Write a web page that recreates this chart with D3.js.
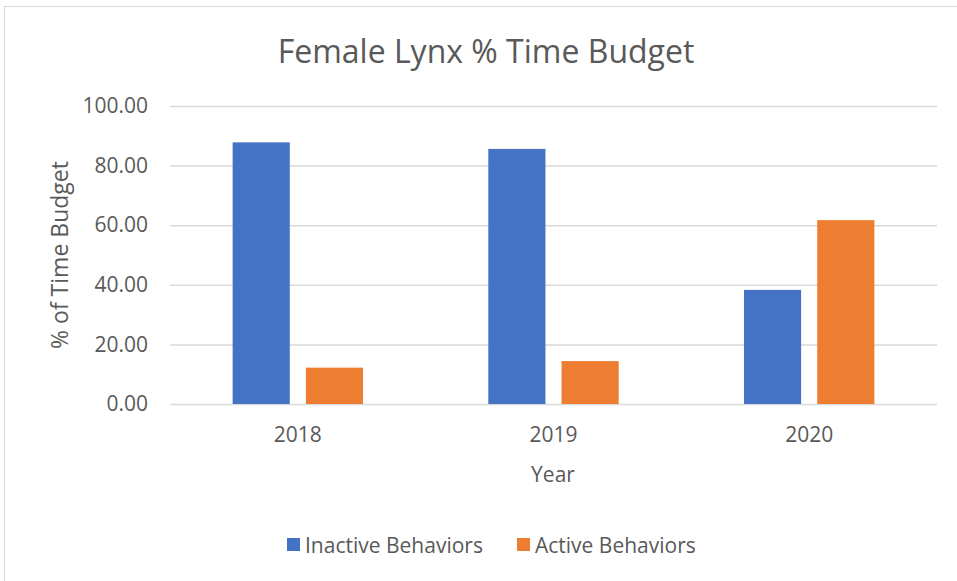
<!DOCTYPE html>
<html><head><meta charset="utf-8">
<script src="https://cdn.jsdelivr.net/npm/d3@7"></script>
<style>body{margin:0;background:#fff}svg{display:block}text{font-family:"Open Sans",sans-serif;fill:#595959}</style>
</head><body>
<script>
const years = ["2018","2019","2020"];
const seriesNames = ["Inactive Behaviors","Active Behaviors"];
const inactive = [87.8, 85.6, 38.3];
const active = [12.2, 14.4, 61.7];
const yTicks = [0,20,40,60,80,100];
const colors = ["#4472C4","#ED7D31"];

const W=957,H=581;
const svg=d3.select("body").append("svg").attr("width",W).attr("height",H);
svg.append("rect").attr("x",4.5).attr("y",6.5).attr("width",W+10).attr("height",H+10)
  .attr("fill","#fff").attr("stroke","#d9d9d9");

const m={l:170,r:937,t:106,b:404};
const y=d3.scaleLinear().domain([0,100]).range([m.b,m.t]);
const x0=d3.scaleBand().domain(years).range([m.l,m.r]).paddingInner(0.49).paddingOuter(0.245);
const x1=d3.scaleBand().domain(seriesNames).range([0,x0.bandwidth()]).paddingInner(0.22);

const yAxis=d3.axisLeft(y).tickValues(yTicks).tickFormat(d3.format(".2f")).tickSize(-(m.r-m.l)).tickPadding(22);
const ga=svg.append("g").attr("transform",`translate(${m.l},0)`).call(yAxis);
ga.select(".domain").remove();
ga.selectAll("line").attr("stroke","#d9d9d9").attr("stroke-width",1.5);
ga.selectAll("text").attr("font-size",21).style("fill","#595959").attr("font-family","Open Sans");

const data=years.map((yr,i)=>({yr,vals:[inactive[i],active[i]]}));
svg.append("g").selectAll("g").data(data).join("g")
  .attr("transform",d=>`translate(${x0(d.yr)},0)`)
  .selectAll("rect").data(d=>d.vals.map((v,j)=>({k:seriesNames[j],v,j}))).join("rect")
  .attr("x",d=>x1(d.k)).attr("width",x1.bandwidth())
  .attr("y",d=>y(d.v)).attr("height",d=>y(0)-y(d.v))
  .attr("fill",d=>colors[d.j]);

const xAxis=d3.axisBottom(x0).tickSize(0).tickPadding(23);
const gx=svg.append("g").attr("transform",`translate(0,${m.b})`).call(xAxis);
gx.select(".domain").remove();
gx.selectAll("text").attr("font-size",21).style("fill","#595959").attr("font-family","Open Sans");

svg.append("text").attr("x",486).attr("y",63).attr("text-anchor","middle").attr("font-size",32).text("Female Lynx % Time Budget");
svg.append("text").attr("x",553).attr("y",482).attr("text-anchor","middle").attr("font-size",21).text("Year");
svg.append("text").attr("transform","translate(68,255) rotate(-90)").attr("text-anchor","middle").attr("font-size",23).text("% of Time Budget");

const lg=svg.append("g");
const legX=[287,517];
seriesNames.forEach((s,i)=>{
  lg.append("rect").attr("x",legX[i]).attr("y",538).attr("width",13).attr("height",13).attr("fill",colors[i]);
  lg.append("text").attr("x",legX[i]+18).attr("y",553).attr("font-size",21).text(s);
});
</script>
</body></html>
